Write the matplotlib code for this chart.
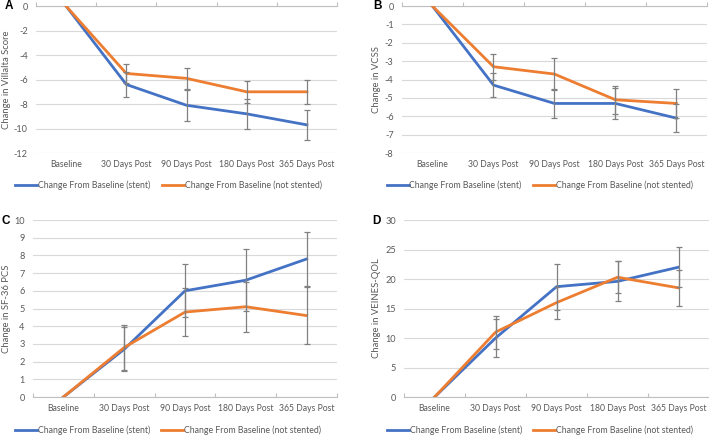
"""
Change from baseline scores, stented vs not stented
"""
import matplotlib
matplotlib.use("Agg")
import matplotlib.pyplot as plt
import numpy as np

categories = ["Baseline", "30 Days Post", "90 Days Post", "180 Days Post", "365 Days Post"]

# A - Villalta
villalta_stent = [0, -6.4, -8.1, -8.8, -9.7]
villalta_stent_err = [0, 1.0, 1.25, 1.2, 1.2]
villalta_not = [0, -5.5, -5.9, -7.0, -7.0]
villalta_not_err = [0, 0.8, 0.85, 0.9, 1.0]

# B - VCSS
vcss_stent = [0, -4.3, -5.3, -5.3, -6.1]
vcss_stent_err = [0, 0.65, 0.8, 0.85, 0.75]
vcss_not = [0, -3.3, -3.7, -5.1, -5.3]
vcss_not_err = [0, 0.7, 0.85, 0.75, 0.8]

# C - SF-36 PCS
sf36_stent = [0, 2.7, 6.0, 6.6, 7.8]
sf36_stent_err = [0, 1.25, 1.5, 1.75, 1.55]
sf36_not = [0, 2.8, 4.8, 5.1, 4.6]
sf36_not_err = [0, 1.25, 1.35, 1.4, 1.6]

# D - VEINES-QOL
veines_stent = [0, 10.0, 18.7, 19.6, 22.0]
veines_stent_err = [0, 3.2, 3.9, 3.4, 3.4]
veines_not = [0, 11.0, 16.0, 20.3, 18.5]
veines_not_err = [0, 2.8, 2.7, 2.7, 3.0]

BLUE = "#4472C4"
ORANGE = "#ED7D31"
GRAY_TXT = "#595959"
GRID = "#d9d9d9"

plt.rcParams["font.family"] = ["Lato", "DejaVu Sans"]
plt.rcParams["font.size"] = 6.3
plt.rcParams["axes.unicode_minus"] = False


def panel(ax, stent, stent_err, nots, nots_err, ylim, step, ylabel, ylab_x, leg_xy):
    x = np.arange(len(categories))
    ax.plot(x, stent, color=BLUE, lw=2, label="Change From Baseline (stent)", zorder=3)
    ax.plot(x, nots, color=ORANGE, lw=2, label="Change From Baseline (not stented)", zorder=3)
    ax.errorbar(x[1:], stent[1:], yerr=stent_err[1:], fmt="none", ecolor="#808080",
                elinewidth=0.9, capsize=2.2, capthick=0.9, zorder=4)
    ax.errorbar(x[1:], nots[1:], yerr=nots_err[1:], fmt="none", ecolor="#808080",
                elinewidth=0.9, capsize=2.2, capthick=0.9, zorder=4)
    ax.set_xlim(-0.5, len(categories) - 0.5)
    ax.set_ylim(*ylim)
    ax.set_yticks(np.arange(ylim[0], ylim[1] + step / 2, step))
    ax.set_xticks(x)
    ax.set_xticklabels(categories)
    ax.yaxis.grid(True, color=GRID, lw=0.8)
    ax.set_axisbelow(True)
    for s in ["left", "right", "bottom"]:
        ax.spines[s].set_visible(False)
    # axis line at zero with tick marks between categories
    ax.spines["top"].set_position(("data", 0))
    ax.spines["top"].set_color("#bfbfbf")
    ax.spines["top"].set_linewidth(0.8)
    ax.set_xticks(np.arange(-0.5, len(categories), 1.0), minor=True)
    ax.tick_params(axis="x", which="minor", top=True, bottom=False, direction="out",
                   length=3, color="#bfbfbf", width=0.8)
    ax.tick_params(axis="x", which="major", length=0, pad=5, colors=GRAY_TXT, labelsize=6.2)
    ax.tick_params(axis="y", length=0, pad=6, colors=GRAY_TXT, labelsize=6.6)
    ax.set_ylabel(ylabel, color=GRAY_TXT, fontsize=6.8)
    ax.yaxis.set_label_coords(ylab_x, 0.5)
    ax.legend(loc="center", bbox_to_anchor=leg_xy, ncol=2, frameon=False,
              fontsize=6.3, handlelength=2.5, handletextpad=0.1, columnspacing=1.3,
              labelcolor=GRAY_TXT)


fig = plt.figure(figsize=(7.09, 4.36), dpi=100)
axA = fig.add_axes([0.0508, 0.649, 0.4245, 0.337])
axB = fig.add_axes([0.567, 0.649, 0.430, 0.337])
axC = fig.add_axes([0.0465, 0.0894, 0.429, 0.406])
axD = fig.add_axes([0.570, 0.0894, 0.430, 0.406])

panel(axA, villalta_stent, villalta_stent_err, villalta_not, villalta_not_err,
      (-12, 0), 2, "Change in Villalta Score", -0.083, (0.44, -0.218))
panel(axB, vcss_stent, vcss_stent_err, vcss_not, vcss_not_err,
      (-8, 0), 1, "Change in VCSS", -0.069, (0.452, -0.218))
panel(axC, sf36_stent, sf36_stent_err, sf36_not, sf36_not_err,
      (0, 10), 1, "Change in SF-36 PCS", -0.072, (0.444, -0.186))
panel(axD, veines_stent, veines_stent_err, veines_not, veines_not_err,
      (0, 30), 5, "Change in VEINES-QOL", -0.075, (0.446, -0.186))

for lab, (fx, fy) in zip("ABCD", [(5, 6), (373, 6), (2, 221), (372, 221)]):
    fig.text(fx / 709, 1 - fy / 436, lab, fontsize=8.5, fontweight="bold",
             family="Liberation Sans", ha="left", va="center", color="black")

fig.savefig("out.png", dpi=100)
